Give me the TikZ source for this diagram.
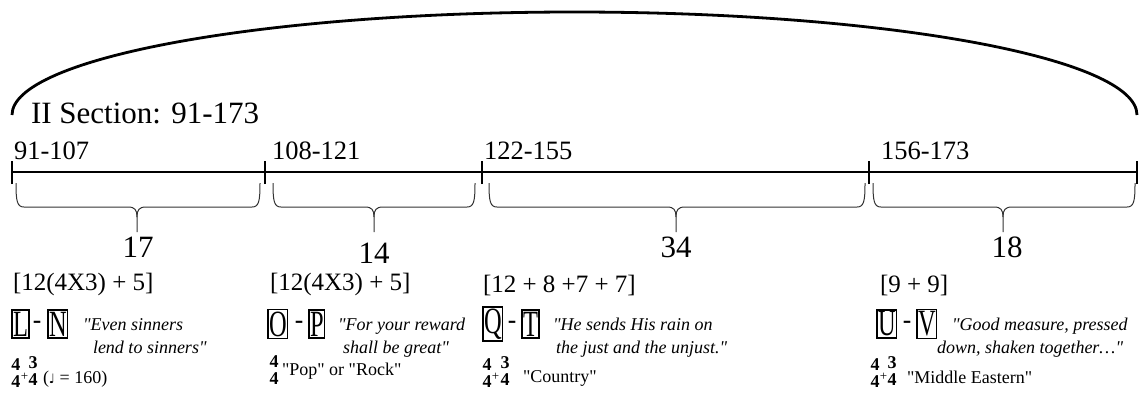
\documentclass[tikz,border=0pt]{standalone}
\usepackage{fontspec}
\setmainfont{Liberation Serif}[Ligatures=TeXOff]
\newfontfamily\dashfont{Liberation Sans}
\newfontfamily\notefont{DejaVu Sans}
\begin{document}
\begin{tikzpicture}[x=1pt,y=-1pt,
  every node/.style={inner sep=0pt,outer sep=0pt},
  axis/.style={line width=2.2pt,black},
  archline/.style={line width=2.8pt,black},
  bracestyle/.style={line width=1pt,black!80},
  sectiontitle/.style={anchor=base west,font=\fontsize{31}{31}\selectfont},
  rangelabel/.style={anchor=base west,font=\fontsize{26.5}{26.5}\selectfont},
  countlabel/.style={anchor=base,font=\fontsize{31}{31}\selectfont},
  formula/.style={anchor=base west,font=\fontsize{25}{25}\selectfont},
  letterbox/.style={draw,line width=1.3pt,inner xsep=1pt,inner ysep=1.8pt,anchor=west,
    font=\fontsize{37}{37}\selectfont},
  sep/.style={anchor=center,font=\dashfont\fontsize{27}{27}\selectfont},
  quote/.style={anchor=base west,font=\itshape\fontsize{18}{18}\selectfont},
  meter/.style={align=center,font=\bfseries\fontsize{18}{17}\selectfont},
  plus/.style={font=\fontsize{13}{13}\selectfont},
  style/.style={anchor=west,font=\fontsize{18}{18}\selectfont}]
\useasboundingbox (0,0) rectangle (1140,400);

% section arch
\coordinate (aL) at (12,115);
\coordinate (aT) at (574.5,12);
\coordinate (aR) at (1137,115);
\draw[archline] (aL) .. controls (12,58) and (263,12) .. (aT)
  .. controls (886,12) and (1137,58) .. (aR);
\node[sectiontitle] (title) at (31,123) {II Section: 91-173};

% time axis with bar ticks
\coordinate (t0) at (12,172);
\coordinate (t1) at (265,172);
\coordinate (t2) at (482,172);
\coordinate (t3) at (869,172);
\coordinate (t4) at (1137,172);
\draw[axis] (t0) -- (t4);
\foreach \t in {t0,t1,t2,t3,t4}
  \draw[axis] ([yshift=-12pt]\t) -- ([yshift=11pt]\t);

\node[rangelabel] (r1) at (14,159) {91-107};
\node[rangelabel] (r2) at (272,159) {108-121};
\node[rangelabel] (r3) at (484,159) {122-155};
\node[rangelabel] (r4) at (881,159) {156-173};

% curly braces under each span: left end, tip, right end
\newcommand{\spanbrace}[3]{%
  \draw[bracestyle] (#1,183) .. controls (#1,201) and ({#1+1},207) .. ({#1+8},207)
    -- ({#2-9},207) .. controls ({#2-2},207) and (#2,210) .. (#2,217) -- (#2,232);
  \draw[bracestyle] (#2,217) .. controls (#2,210) and ({#2+2},207) .. ({#2+9},207)
    -- ({#3-8},207) .. controls ({#3-1},207) and (#3,201) .. (#3,183);}
\spanbrace{16}{137}{260}
\spanbrace{273}{374}{475}
\spanbrace{489}{676}{865}
\spanbrace{873}{1003}{1135}

\node[countlabel] (c1) at (138,257) {17};
\node[countlabel] (c2) at (374,263) {14};
\node[countlabel] (c3) at (676,257) {34};
\node[countlabel] (c4) at (1007,257) {18};

\node[formula] (f1) at (13,290) {[12(4X3) + 5]};
\node[formula] (f2) at (270,290) {[12(4X3) + 5]};
\node[formula] (f3) at (483,292) {[12 + 8 +7 + 7]};
\node[formula] (f4) at (880,292) {[9 + 9]};

% rehearsal letters
\node[letterbox] (L) at (12,324) {\scalebox{0.66}[1]{L}};
\node[sep] (d1) at (37,325) {-};
\node[letterbox] (N) at (48,324) {\scalebox{0.66}[1]{N}};
\node[letterbox] (O) at (268,324) {\scalebox{0.66}[1]{O}};
\node[sep] (d2) at (299,325) {-};
\node[letterbox] (P) at (309,324) {\scalebox{0.66}[1]{P}};
\node[letterbox] (Q) at (483,324) {\scalebox{0.66}[1]{Q}};
\node[sep] (d3) at (512,325) {-};
\node[letterbox] (T) at (522,324) {\scalebox{0.66}[1]{T}};
\node[letterbox] (U) at (877,324) {\scalebox{0.66}[1]{U}};
\node[sep] (d4) at (907,325) {-};
\node[letterbox] (V) at (917,324) {\scalebox{0.66}[1]{V}};

% scripture quotes
\node[quote] (q1a) at (83,330) {"Even sinners};
\node[quote] (q1b) at (93,353) {lend to sinners"};
\node[quote] (q2a) at (338,330) {"For your reward};
\node[quote] (q2b) at (343,353) {shall be great"};
\node[quote] (q3a) at (553,330) {"He sends His rain on};
\node[quote] (q3b) at (556,353) {the just and the unjust."};
\node[quote] (q4a) at (952,330) {"Good measure, pressed};
\node[quote] (q4b) at (937,353) {down, shaken together\dots"};

% meters and styles
\node[meter] (m1a) at (16,373) {4\\4};
\node[plus] (p1) at (24.5,377) {+};
\node[meter] (m1b) at (33,371) {3\\4};
\node[style] (s1) at (43,379) {(\notefont\fontsize{13}{13}\selectfont ♩\rmfamily\fontsize{18}{18}\selectfont{} = 160)};

\node[meter] (m2a) at (274,370) {4\\4};
\node[style] (s2) at (282,371) {"Pop" or "Rock"};

\node[meter] (m3a) at (487,373) {4\\4};
\node[plus] (p3) at (495.5,377) {+};
\node[meter] (m3b) at (505,371) {3\\4};
\node[style] (s3) at (523,378) {"Country"};

\node[meter] (m4a) at (875,373) {4\\4};
\node[plus] (p4) at (883.5,377) {+};
\node[meter] (m4b) at (892,371) {3\\4};
\node[style] (s4) at (907,377) {"Middle Eastern"};
\end{tikzpicture}
\end{document}
